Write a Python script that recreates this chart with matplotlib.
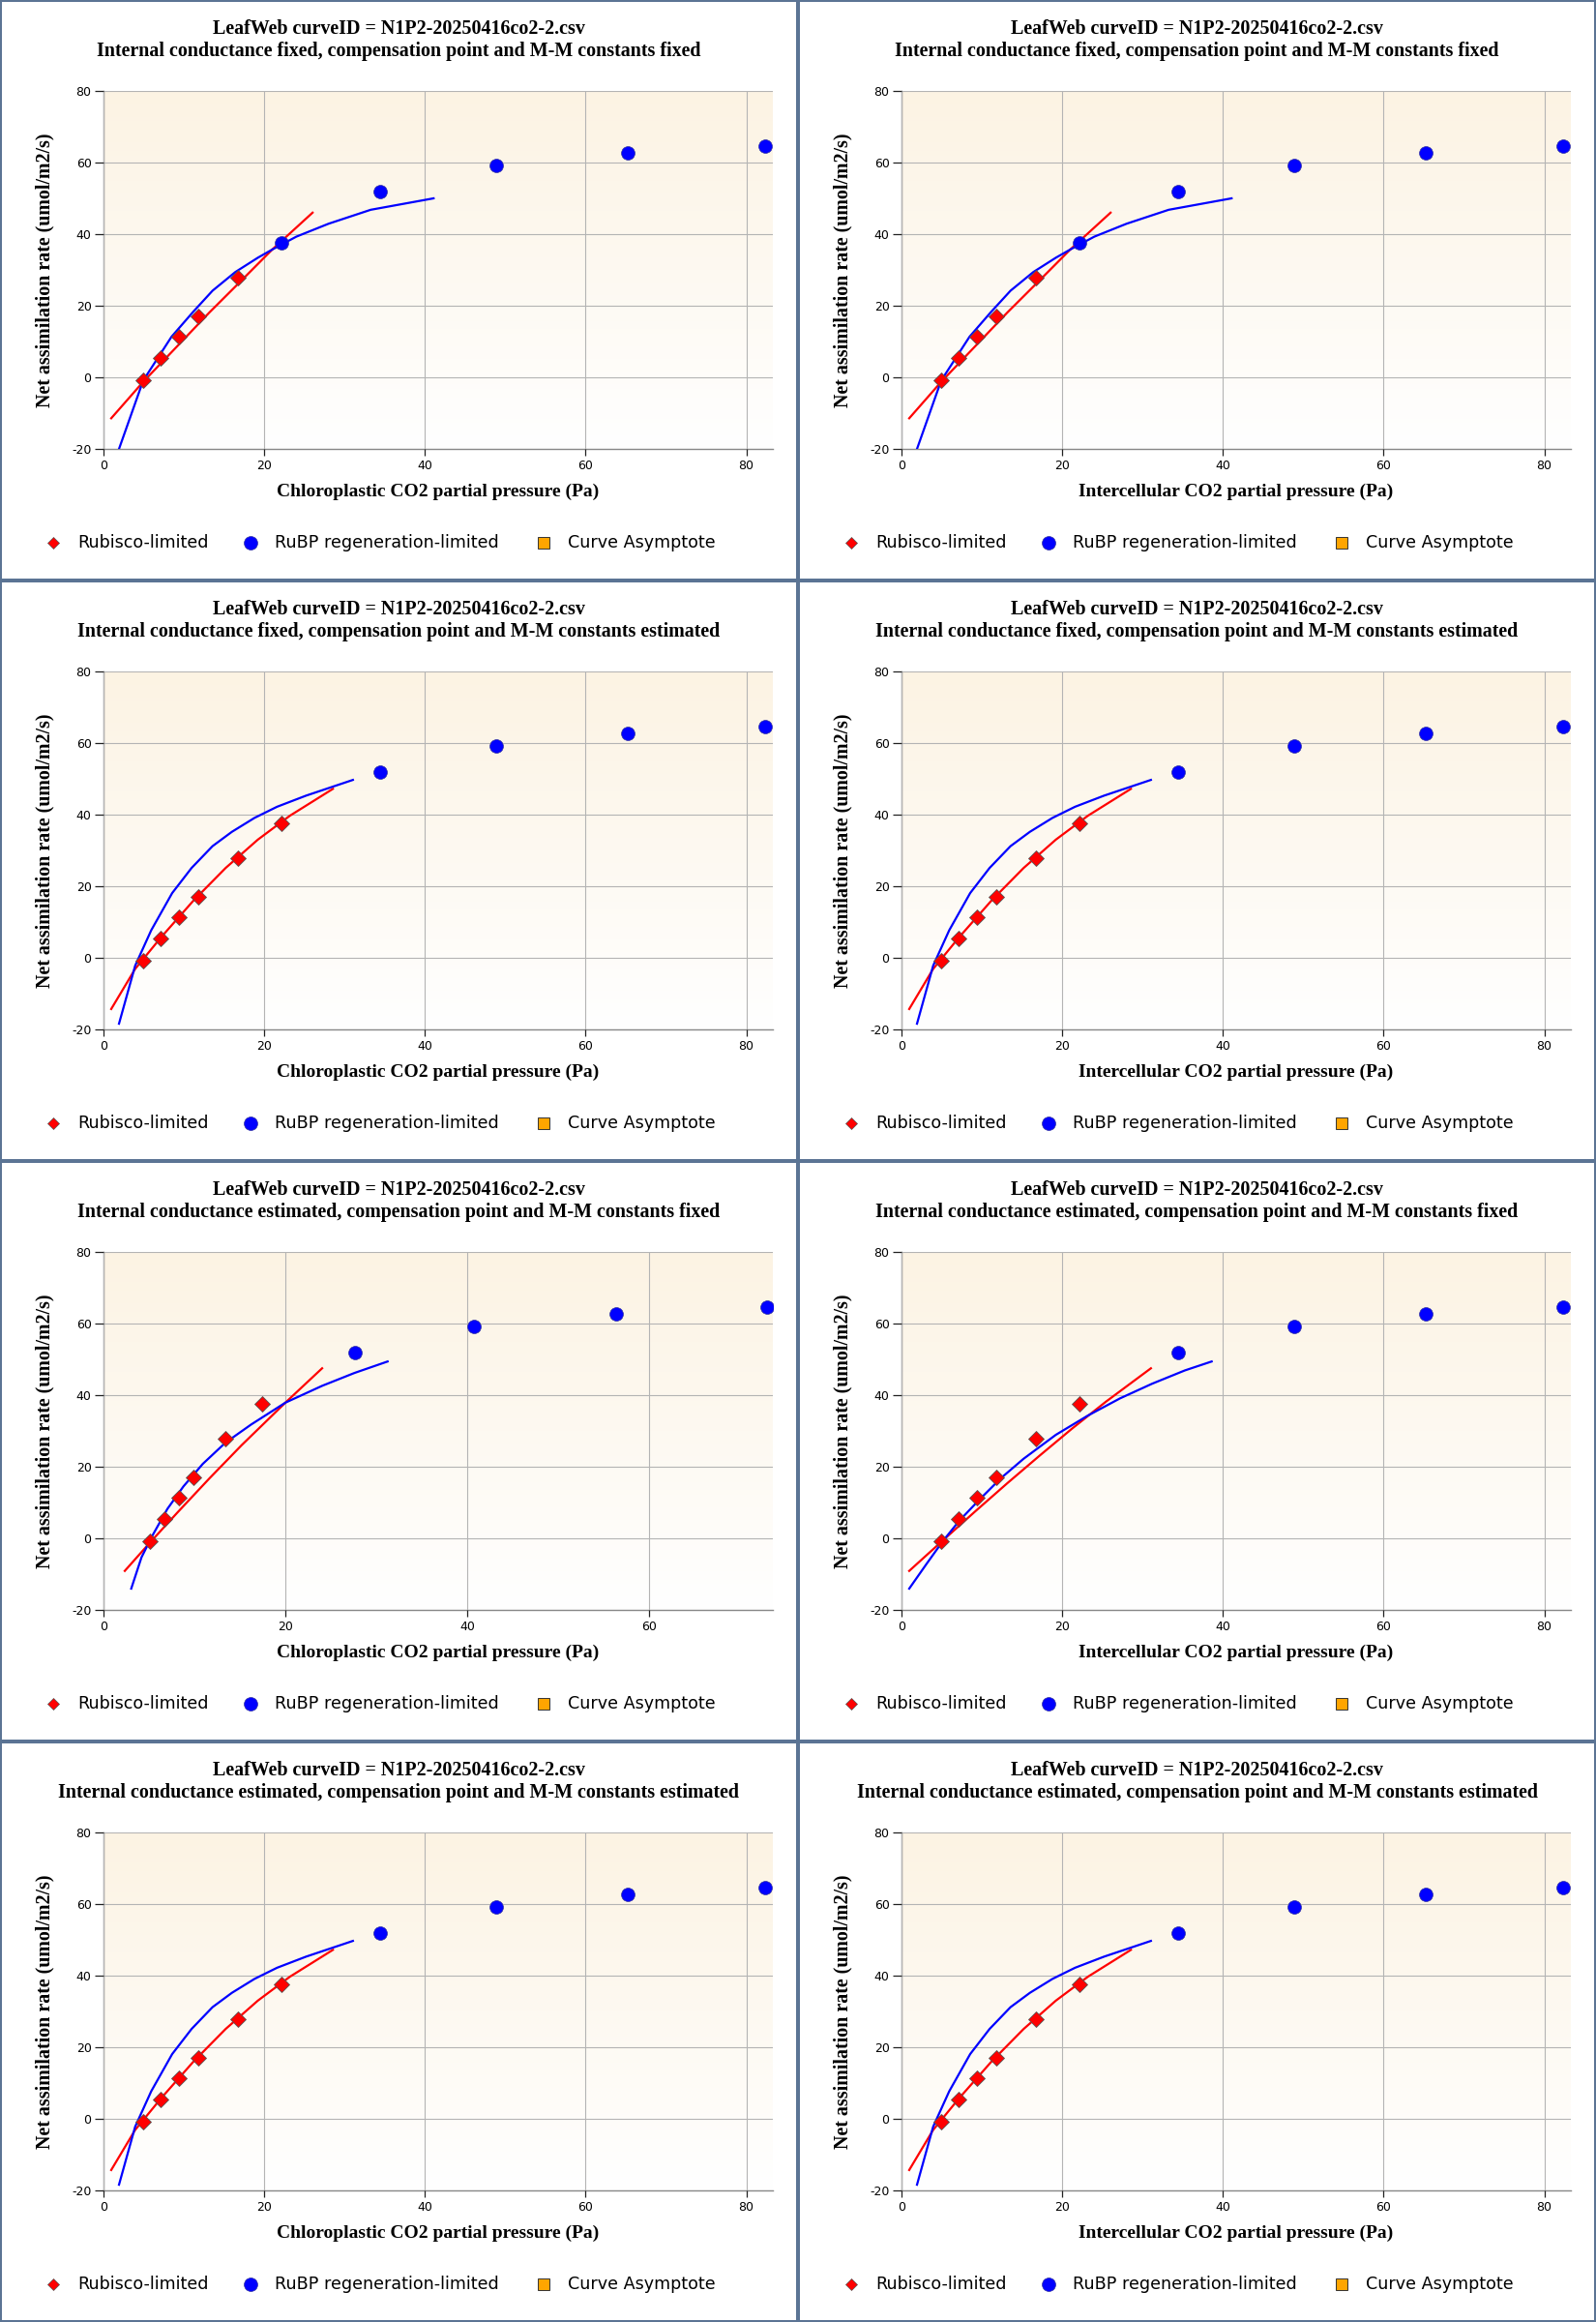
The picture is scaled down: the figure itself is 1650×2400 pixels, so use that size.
import numpy as np
import matplotlib
matplotlib.use("Agg")
import matplotlib.pyplot as plt
from matplotlib.patches import Rectangle

# ---- data ------------------------------------------------------------
# set A: internal conductance fixed, kinetics fixed (Cc == Ci here)
rub_x_A = [4.94, 7.15, 9.44, 11.77, 16.70]
rub_y_A = [-0.9, 5.3, 11.35, 17.1, 27.75]
rubp_x_A = [22.2, 34.46, 48.86, 65.25, 82.34]
rubp_y_A = [37.5, 51.85, 59.2, 62.8, 64.7]
fit_rub_x_A = [0.96, 4.94, 9.16, 13.17, 17.19, 21.0, 26.02]
fit_rub_y_A = [-11.44, -1.26, 8.65, 18.1, 27.1, 35.7, 46.0]
fit_rubp_x_A = [1.93, 4.94, 8.47, 11.16, 13.57, 16.4, 19.2, 21.0, 24.0, 28.0, 33.25, 41.08]
fit_rubp_y_A = [-20.0, -0.9, 11.35, 18.3, 24.2, 29.4, 33.4, 35.7, 39.3, 42.9, 46.8, 50.0]

# set B: kinetics estimated
rub_x_B = [4.94, 7.15, 9.44, 11.77, 16.70, 22.2]
rub_y_B = [-0.9, 5.3, 11.35, 17.1, 27.75, 37.5]
rubp_x_B = [34.46, 48.86, 65.25, 82.34]
rubp_y_B = [51.85, 59.2, 62.8, 64.7]
fit_rub_x_B = [0.96, 3.94, 7.15, 11.16, 15.2, 19.2, 23.2, 28.55]
fit_rub_y_B = [-14.3, -3.1, 5.7, 15.9, 25.1, 33.0, 39.7, 47.2]
fit_rubp_x_B = [1.93, 3.94, 5.94, 8.55, 10.96, 13.57, 15.98, 18.8, 21.6, 25.2, 31.04]
fit_rubp_y_B = [-18.4, -2.2, 7.7, 18.1, 25.1, 31.2, 35.2, 39.1, 42.2, 45.3, 49.7]

# set C: internal conductance estimated, chloroplastic
rub_x_C = [5.1, 6.7, 8.3, 9.86, 13.44, 17.45]
rub_y_C = [-0.9, 5.3, 11.35, 17.1, 27.75, 37.5]
rubp_x_C = [27.6, 40.7, 56.4, 73.0]
rubp_y_C = [51.85, 59.2, 62.8, 64.7]
fit_rub_x_C = [2.34, 5.07, 8.09, 11.63, 15.18, 20.0, 24.04]
fit_rub_y_C = [-9.1, -1.3, 7.1, 16.7, 26.0, 37.9, 47.5]
fit_rubp_x_C = [3.05, 4.18, 5.43, 7.02, 8.79, 10.92, 13.4, 16.24, 20.0, 24.04, 27.6, 31.24]
fit_rubp_y_C = [-14.05, -5.3, 1.0, 8.2, 14.5, 20.8, 26.7, 31.8, 37.9, 42.6, 46.2, 49.4]

# set D: internal conductance estimated, intercellular
rub_x_D = [4.94, 7.15, 9.44, 11.77, 16.70, 22.2]
rub_y_D = [-0.9, 5.3, 11.35, 17.1, 27.75, 37.5]
rubp_x_D = [34.46, 48.86, 65.25, 82.34]
rubp_y_D = [51.85, 59.2, 62.8, 64.7]
fit_rub_x_D = [0.96, 5.14, 9.16, 13.17, 17.19, 21.2, 25.4, 31.04]
fit_rub_y_D = [-9.1, -0.6, 7.5, 15.4, 23.1, 30.6, 38.1, 47.5]
fit_rubp_x_D = [0.96, 3.13, 5.14, 7.15, 9.56, 12.37, 15.18, 19.2, 23.2, 27.2, 31.2, 35.26, 38.6]
fit_rubp_y_D = [-14.05, -7.1, -0.8, 4.8, 10.5, 16.8, 22.2, 28.9, 34.3, 39.1, 43.2, 46.9, 49.4]

curve_id = "N1P2-20250416co2-2.csv"
legend_labels = ["Rubisco-limited", "RuBP regeneration-limited", "Curve Asymptote"]

sets = {
    "A": (rub_x_A, rub_y_A, rubp_x_A, rubp_y_A, fit_rub_x_A, fit_rub_y_A, fit_rubp_x_A, fit_rubp_y_A, 83.3),
    "B": (rub_x_B, rub_y_B, rubp_x_B, rubp_y_B, fit_rub_x_B, fit_rub_y_B, fit_rubp_x_B, fit_rubp_y_B, 83.3),
    "C": (rub_x_C, rub_y_C, rubp_x_C, rubp_y_C, fit_rub_x_C, fit_rub_y_C, fit_rubp_x_C, fit_rubp_y_C, 73.6),
    "D": (rub_x_D, rub_y_D, rubp_x_D, rubp_y_D, fit_rub_x_D, fit_rub_y_D, fit_rubp_x_D, fit_rubp_y_D, 83.3),
}

# (row, col, x-axis kind, gm, kinetics, data set)
panels = [
    (0, 0, "Chloroplastic", "fixed", "fixed", "A"),
    (0, 1, "Intercellular", "fixed", "fixed", "A"),
    (1, 0, "Chloroplastic", "fixed", "estimated", "B"),
    (1, 1, "Intercellular", "fixed", "estimated", "B"),
    (2, 0, "Chloroplastic", "estimated", "fixed", "C"),
    (2, 1, "Intercellular", "estimated", "fixed", "D"),
    (3, 0, "Chloroplastic", "estimated", "estimated", "B"),
    (3, 1, "Intercellular", "estimated", "estimated", "B"),
]

W, H = 1650, 2400
PW, PH = 825, 600
PX = 0.72  # points per pixel at dpi 100
SERIF = "Liberation Serif"
SANS = "DejaVu Sans"
border_col = "#5b7494"
plt.rcParams["axes.unicode_minus"] = False

fig = plt.figure(figsize=(W / 100, H / 100), dpi=100)
fig.patch.set_facecolor("white")

# soft tan-to-white background of each plot area
top_col = np.array([252, 243, 227]) / 255.0
bot_col = np.array([255, 255, 255]) / 255.0
t = np.linspace(0, 1, 256)[:, None]
grad = (top_col * (1 - t) + bot_col * t)[:, None, :]

for row, col, kind, gm, kin, key in panels:
    rx, ry, bx, by, frx, fry, fbx, fby, xmax = sets[key]
    x0, y0 = col * PW, row * PH
    left = (x0 + 107) / W
    bottom = 1 - (y0 + 464) / H
    ax = fig.add_axes([left, bottom, 692 / W, 370 / H])

    ax.imshow(grad, extent=[0, 1, 0, 1], transform=ax.transAxes,
              aspect="auto", zorder=0, interpolation="bilinear")
    ax.set_xlim(0, xmax)
    ax.set_ylim(-20, 80)
    ax.set_xticks(np.arange(0, xmax, 20))
    ax.set_yticks([-20, 0, 20, 40, 60, 80])
    ax.grid(True, color="#b4b4b4", linewidth=0.8, zorder=1)
    ax.set_axisbelow(False)
    for s in ["top", "right"]:
        ax.spines[s].set_visible(False)
    for s in ["left", "bottom"]:
        ax.spines[s].set_color("#888888")
        ax.spines[s].set_linewidth(1.0)
    ax.tick_params(axis="x", length=7 * PX, width=0.9, color="#222222",
                   labelsize=12.5 * PX, pad=3)
    ax.tick_params(axis="y", length=9 * PX, width=0.9, color="#222222",
                   labelsize=12.5 * PX, pad=2.5)
    for lab in ax.get_xticklabels() + ax.get_yticklabels():
        lab.set_family(SANS)

    ax.plot(frx, fry, color="#ff0000", linewidth=1.6, zorder=3)
    ax.plot(fbx, fby, color="#0000ff", linewidth=1.6, zorder=3)
    ax.plot(rx, ry, linestyle="none", marker="D", markersize=8, color="#ff0000",
            markeredgecolor="#555555", markeredgewidth=0.6, zorder=4)
    ax.plot(bx, by, linestyle="none", marker="o", markersize=10, color="#0000ff",
            markeredgecolor="#3030a0", markeredgewidth=0.5, zorder=4)

    ax.set_xlabel(kind + " CO2 partial pressure (Pa)", family=SERIF, weight="bold",
                  fontsize=19.5 * PX, labelpad=8)
    ax.set_ylabel("Net assimilation rate (umol/m2/s)", family=SERIF, weight="bold",
                  fontsize=20 * PX, labelpad=13)

# overlay for frames, titles and legends, in pixel coordinates
ov = fig.add_axes([0, 0, 1, 1], facecolor="none")
ov.set_xlim(0, W)
ov.set_ylim(H, 0)
ov.axis("off")

for row, col, kind, gm, kin, key in panels:
    x0, y0 = col * PW, row * PH
    ov.add_patch(Rectangle((x0 + 1, y0 + 1), PW - 2, PH - 2, fill=False,
                           edgecolor=border_col, linewidth=2 * PX))
    cx = x0 + PW / 2
    ov.text(cx, y0 + 30, "LeafWeb curveID = " + curve_id, ha="center", va="center",
            family=SERIF, weight="bold", fontsize=20 * PX)
    ov.text(cx, y0 + 53, "Internal conductance %s, compensation point and M-M constants %s" % (gm, kin),
            ha="center", va="center", family=SERIF, weight="bold", fontsize=20 * PX)

    ly = y0 + 561
    ov.plot([x0 + 55], [ly], marker="D", markersize=6.5, color="#ff0000",
            markeredgecolor="#555555", markeredgewidth=0.5, linestyle="none")
    ov.plot([x0 + 259], [ly], marker="o", markersize=10, color="#0000ff",
            markeredgecolor="#3030a0", markeredgewidth=0.5, linestyle="none")
    ov.plot([x0 + 562], [ly], marker="s", markersize=9, color="#ffa500",
            markeredgecolor="#333333", markeredgewidth=0.7, linestyle="none")
    for tx, lab in zip([80, 284, 587], legend_labels):
        ov.text(x0 + tx, ly, lab, ha="left", va="center", family=SANS, fontsize=17.5 * PX)

fig.savefig("out.png", dpi=100)
